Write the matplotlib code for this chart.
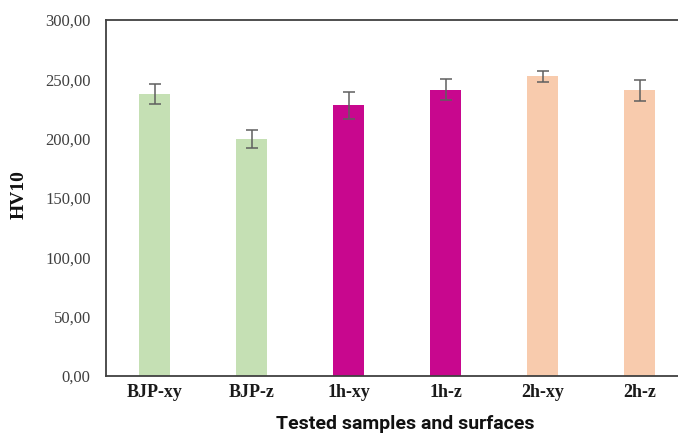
import matplotlib
matplotlib.use("Agg")
import matplotlib.pyplot as plt
from matplotlib.ticker import FuncFormatter

categories = ["BJP-xy", "BJP-z", "1h-xy", "1h-z", "2h-xy", "2h-z"]
values = [237.3, 199.7, 228.0, 241.4, 252.6, 240.6]
errors = [8.5, 7.7, 11.3, 8.7, 4.5, 8.7]
colors = ["#C5E0B4", "#C5E0B4", "#C8078E", "#C8078E", "#F8CBAD", "#F8CBAD"]

W, H = 678, 436
fig = plt.figure(figsize=(W / 100, H / 100), dpi=100)
left_px, right_px, top_px, bot_px = 106, 688, 20, 376
ax = fig.add_axes([left_px / W, (H - bot_px) / H, (right_px - left_px) / W, (bot_px - top_px) / H])

x = list(range(len(categories)))
ax.bar(x, values, width=0.31, color=colors, zorder=2)
ax.errorbar(x, values, yerr=errors, fmt="none", ecolor="#5f5f5f", elinewidth=1.1,
            capsize=4.5, capthick=1.1, zorder=3)

ax.set_xlim(-0.5, 5.5)
ax.set_ylim(0, 300)
ax.set_yticks([0, 50, 100, 150, 200, 250, 300])
ax.yaxis.set_major_formatter(FuncFormatter(lambda v, p: f"{v:.2f}".replace(".", ",")))
ax.set_xticks(x)
ax.set_xticklabels(categories, fontfamily="Liberation Serif", fontweight="bold", fontsize=13, color="#1a1a1a")
for lab in ax.get_yticklabels():
    lab.set_fontfamily("Liberation Serif")
    lab.set_fontsize(12)
    lab.set_color("#404040")
ax.tick_params(axis="both", length=0)
ax.tick_params(axis="y", pad=11)
ax.tick_params(axis="x", pad=6)

for s in ["left", "bottom", "top", "right"]:
    ax.spines[s].set_color("#404040")
    ax.spines[s].set_linewidth(1.3)

span_x = right_px - left_px
span_y = bot_px - top_px
ax.set_ylabel("HV10", fontfamily="Liberation Serif", fontweight="bold", fontsize=14, color="#111111")
ax.yaxis.label.set_va("center")
ax.yaxis.set_label_coords((19 - left_px) / span_x, (bot_px - 195) / span_y)
ax.set_xlabel("Tested samples and surfaces", fontfamily="Roboto", fontweight="bold", fontsize=14, color="#111111")
ax.xaxis.label.set_va("center")
ax.xaxis.set_label_coords((405 - left_px) / span_x, -(424 - bot_px) / span_y)

fig.savefig("out.png", dpi=100)
